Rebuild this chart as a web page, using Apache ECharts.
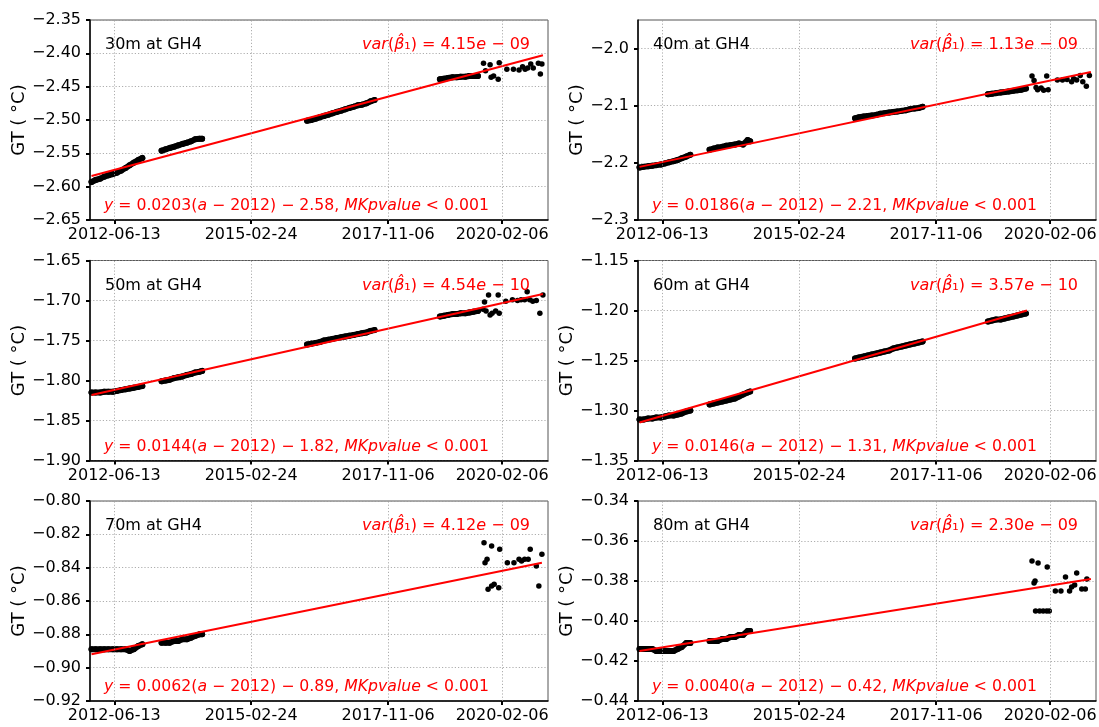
<!DOCTYPE html>
<html><head><meta charset="utf-8">
<script src="https://cdn.jsdelivr.net/npm/echarts/dist/echarts.min.js"></script>
<style>html,body{margin:0;padding:0;background:#fff}#c{width:1099px;height:727px}</style>
</head><body><div id="c"></div>
<script>
// ---------------- DATA ----------------
const xTickDates = ['2012-06-13', '2015-02-24', '2017-11-06', '2020-02-06'];
const panelNames = ['30m at GH4', '40m at GH4', '50m at GH4', '60m at GH4', '70m at GH4', '80m at GH4'];
const slopes = ['0.0203', '0.0186', '0.0144', '0.0146', '0.0062', '0.0040'];
const intercepts = ['2.58', '2.21', '1.82', '1.31', '0.89', '0.42'];
const varMantissa = ['4.15', '1.13', '4.54', '3.57', '4.12', '2.30'];
const varExponent = ['09', '09', '10', '10', '09', '09'];

// y-axis ranges (min, max, interval, decimals)
const yMin = [-2.65, -2.3, -1.90, -1.35, -0.92, -0.44];
const yMax = [-2.35, -1.95, -1.65, -1.15, -0.80, -0.34];
const yStep = [0.05, 0.1, 0.05, 0.05, 0.02, 0.02];
const yDec = [2, 1, 2, 2, 2, 2];

// measurement times (decimal years) of the dense periods
const tA = [2012.00, 2012.08, 2012.17, 2012.25, 2012.33, 2012.42, 2012.50, 2012.58, 2012.67, 2012.75, 2012.83, 2012.92, 2013.00];
const tB = [2013.38, 2013.46, 2013.54, 2013.63, 2013.71, 2013.79, 2013.88, 2013.96, 2014.04, 2014.13, 2014.18];
const tC = [2016.25, 2016.33, 2016.42, 2016.50, 2016.58, 2016.67, 2016.75, 2016.83, 2016.92, 2017.00, 2017.08, 2017.17, 2017.25, 2017.33, 2017.42, 2017.50, 2017.58];
const tD = [2018.87, 2018.95, 2019.03, 2019.12, 2019.20, 2019.28, 2019.37, 2019.45, 2019.53, 2019.62];

// 30 m
const v30A = [-2.593, -2.590, -2.588, -2.585, -2.583, -2.581, -2.579, -2.576, -2.572, -2.568, -2.564, -2.560, -2.557];
const v30B = [-2.546, -2.544, -2.542, -2.540, -2.538, -2.536, -2.534, -2.532, -2.529, -2.528, -2.528];
const v30C = [-2.501, -2.500, -2.498, -2.496, -2.494, -2.492, -2.490, -2.488, -2.486, -2.484, -2.482, -2.480, -2.478, -2.477, -2.475, -2.472, -2.470];
const v30D = [-2.439, -2.438, -2.437, -2.436, -2.436, -2.435, -2.435, -2.434, -2.434, -2.434];
const t30S = [2019.73, 2019.77, 2019.86, 2019.88, 2019.93, 2020.02, 2020.04, 2020.19, 2020.32, 2020.43, 2020.50, 2020.55, 2020.60, 2020.66, 2020.71, 2020.81, 2020.85, 2020.88];
const v30S = [-2.415, -2.426, -2.417, -2.436, -2.434, -2.439, -2.414, -2.424, -2.424, -2.425, -2.420, -2.424, -2.422, -2.416, -2.422, -2.415, -2.431, -2.416];
const trend30T = [2012.00, 2020.90];
const trend30V = [-2.584, -2.403];

// 40 m
const v40A = [-2.208, -2.207, -2.206, -2.205, -2.204, -2.203, -2.201, -2.199, -2.197, -2.195, -2.192, -2.189, -2.186];
const v40B = [-2.177, -2.175, -2.173, -2.172, -2.170, -2.169, -2.168, -2.166, -2.168, -2.160, -2.162];
const v40C = [-2.122, -2.120, -2.119, -2.118, -2.117, -2.116, -2.114, -2.113, -2.112, -2.111, -2.110, -2.109, -2.108, -2.106, -2.105, -2.104, -2.102];
const v40D = [-2.080, -2.079, -2.078, -2.077, -2.076, -2.075, -2.074, -2.073, -2.072, -2.070];
const t40S = [2019.74, 2019.78, 2019.82, 2019.85, 2019.92, 2019.97, 2020.03, 2020.06, 2020.24, 2020.34, 2020.43, 2020.52, 2020.56, 2020.62, 2020.69, 2020.74, 2020.81, 2020.87];
const v40S = [-2.048, -2.056, -2.068, -2.072, -2.069, -2.073, -2.048, -2.072, -2.055, -2.055, -2.054, -2.058, -2.053, -2.055, -2.047, -2.058, -2.066, -2.047];
const trend40T = [2012.00, 2020.90];
const trend40V = [-2.207, -2.041];

// 50 m
const v50A = [-1.815, -1.815, -1.815, -1.814, -1.814, -1.814, -1.813, -1.812, -1.811, -1.810, -1.809, -1.808, -1.807];
const v50B = [-1.801, -1.800, -1.799, -1.797, -1.796, -1.795, -1.793, -1.792, -1.790, -1.789, -1.788];
const v50C = [-1.755, -1.754, -1.753, -1.752, -1.750, -1.749, -1.748, -1.747, -1.746, -1.745, -1.744, -1.743, -1.742, -1.741, -1.740, -1.738, -1.737];
const v50D = [-1.720, -1.719, -1.718, -1.717, -1.717, -1.716, -1.716, -1.715, -1.714, -1.713];
const t50S = [2019.72, 2019.75, 2019.78, 2019.83, 2019.86, 2019.90, 2019.97, 2020.02, 2020.04, 2020.17, 2020.30, 2020.40, 2020.47, 2020.54, 2020.59, 2020.64, 2020.70, 2020.77, 2020.84, 2020.90];
const v50S = [-1.711, -1.702, -1.713, -1.693, -1.718, -1.716, -1.713, -1.693, -1.716, -1.701, -1.699, -1.700, -1.699, -1.699, -1.689, -1.699, -1.701, -1.700, -1.716, -1.693];
const trend50T = [2012.00, 2020.90];
const trend50V = [-1.818, -1.692];

// 60 m
const v60A = [-1.309, -1.309, -1.308, -1.308, -1.307, -1.307, -1.306, -1.305, -1.305, -1.304, -1.303, -1.301, -1.300];
const v60B = [-1.294, -1.293, -1.292, -1.291, -1.290, -1.289, -1.288, -1.286, -1.284, -1.282, -1.281];
const v60C = [-1.248, -1.247, -1.246, -1.245, -1.244, -1.243, -1.242, -1.241, -1.240, -1.238, -1.237, -1.236, -1.235, -1.234, -1.233, -1.232, -1.231];
const v60D = [-1.211, -1.210, -1.209, -1.209, -1.208, -1.207, -1.206, -1.205, -1.204, -1.203];
const t60S = [];
const v60S = [];
const trend60T = [2012.00, 2019.64];
const trend60V = [-1.312, -1.200];

// 70 m
const v70A = [-0.889, -0.889, -0.889, -0.889, -0.889, -0.889, -0.889, -0.889, -0.889, -0.890, -0.889, -0.887, -0.886];
const v70B = [-0.885, -0.885, -0.885, -0.884, -0.884, -0.883, -0.883, -0.882, -0.881, -0.880, -0.880];
const t70S = [2019.74, 2019.76, 2019.80, 2019.82, 2019.89, 2019.89, 2019.94, 2020.03, 2020.05, 2020.20, 2020.33, 2020.43, 2020.48, 2020.54, 2020.61, 2020.65, 2020.77, 2020.82, 2020.88];
const v70S = [-0.825, -0.837, -0.835, -0.853, -0.851, -0.827, -0.850, -0.852, -0.829, -0.837, -0.837, -0.835, -0.836, -0.835, -0.835, -0.829, -0.839, -0.851, -0.832];
const trend70T = [2012.00, 2020.88];
const trend70V = [-0.892, -0.837];

// 80 m
const v80A = [-0.414, -0.414, -0.414, -0.414, -0.415, -0.415, -0.415, -0.415, -0.415, -0.414, -0.413, -0.411, -0.411];
const v80B = [-0.410, -0.410, -0.410, -0.409, -0.409, -0.408, -0.408, -0.407, -0.407, -0.405, -0.405];
const t80S = [2019.74, 2019.78, 2019.80, 2019.81, 2019.86, 2019.89, 2019.96, 2020.03, 2020.04, 2020.08, 2020.20, 2020.31, 2020.40, 2020.48, 2020.52, 2020.58, 2020.62, 2020.72, 2020.79, 2020.82];
const v80S = [-0.370, -0.381, -0.380, -0.395, -0.371, -0.395, -0.395, -0.395, -0.373, -0.395, -0.385, -0.385, -0.378, -0.385, -0.383, -0.382, -0.376, -0.384, -0.384, -0.379];
const trend80T = [2012.00, 2020.90];
const trend80V = [-0.415, -0.379];

// ---------------- BUILD ----------------
function dy(y) { const Y = Math.floor(y); const s = Date.UTC(Y, 0, 1), e = Date.UTC(Y + 1, 0, 1); return s + (y - Y) * (e - s); }
function pairs(ts, vs) { return ts.map((t, i) => [dy(t), vs[i]]); }
const panelData = [
  { dense: [[tA, v30A], [tB, v30B], [tC, v30C], [tD, v30D]], sparse: [t30S, v30S], trend: [trend30T, trend30V] },
  { dense: [[tA, v40A], [tB, v40B], [tC, v40C], [tD, v40D]], sparse: [t40S, v40S], trend: [trend40T, trend40V] },
  { dense: [[tA, v50A], [tB, v50B], [tC, v50C], [tD, v50D]], sparse: [t50S, v50S], trend: [trend50T, trend50V] },
  { dense: [[tA, v60A], [tB, v60B], [tC, v60C], [tD, v60D]], sparse: [t60S, v60S], trend: [trend60T, trend60V] },
  { dense: [[tA, v70A], [tB, v70B]], sparse: [t70S, v70S], trend: [trend70T, trend70V] },
  { dense: [[tA, v80A], [tB, v80B]], sparse: [t80S, v80S], trend: [trend80T, trend80V] }
];

const FONT = '"DejaVu Sans", "Noto Sans", sans-serif';
const colLeft = [90, 638];
const rowTop = [20, 260.5, 501];
const gridW = 458, gridH = 200;
const xMin = dy(2011.97), xMax = dy(2021.0);
const xTickVals = xTickDates.map(d => Date.parse(d));
const nameGaps = [61, 51, 61, 61, 61, 61];
const GRID_STYLE = { color: '#999999', width: 0.8, type: [1.2, 2] };

function pad(n) { return (n < 10 ? '0' : '') + n; }
function fmtDate(v) { const d = new Date(v); return d.getUTCFullYear() + '-' + pad(d.getUTCMonth() + 1) + '-' + pad(d.getUTCDate()); }

const grids = [], xAxes = [], yAxes = [], series = [], graphics = [];
const rich = {
  n: { fontFamily: FONT, fontSize: 16, color: '#ff0000' },
  i: { fontFamily: FONT, fontSize: 16, color: '#ff0000', fontStyle: 'italic' }
};
const richEq = {
  n: { fontFamily: FONT, fontSize: 15.7, color: '#ff0000' },
  i: { fontFamily: FONT, fontSize: 15.7, color: '#ff0000', fontStyle: 'italic' }
};

panelData.forEach((p, k) => {
  const col = k % 2, row = Math.floor(k / 2);
  const L = colLeft[col], T = rowTop[row];
  grids.push({ left: L, top: T, width: gridW, height: gridH, show: true, borderColor: '#555', borderWidth: 1, backgroundColor: 'transparent', containLabel: false, outerBoundsMode: 'none' });
  xAxes.push({
    type: 'value', gridIndex: k, min: xMin, max: xMax, scale: true,
    axisLine: { show: true, onZero: false, lineStyle: { color: '#000', width: 1.5 } },
    axisTick: { show: true, customValues: xTickVals, length: 4, lineStyle: { color: '#000', width: 2 } },
    axisLabel: { customValues: xTickVals, formatter: fmtDate, color: '#000', fontSize: 16, fontFamily: FONT, margin: 7, hideOverlap: false, showMinLabel: true, showMaxLabel: true },
    splitLine: { show: false }
  });
  const dec = yDec[k];
  const yLabelVals = [];
  for (let j = 0; yMin[k] + j * yStep[k] <= yMax[k] + 1e-9; j++) yLabelVals.push(+(yMin[k] + j * yStep[k]).toFixed(4));
  yAxes.push({
    type: 'value', gridIndex: k, min: yMin[k], max: yMax[k], interval: yStep[k],
    name: 'GT ( °C)', nameLocation: 'middle', nameRotate: 90, nameGap: nameGaps[k],
    nameTextStyle: { color: '#000', fontSize: 18, fontFamily: FONT },
    axisLine: { show: true, onZero: false, lineStyle: { color: '#000', width: 1.5 } },
    axisTick: { show: true, customValues: yLabelVals, length: 4, lineStyle: { color: '#000', width: 2 } },
    axisLabel: { customValues: yLabelVals, color: '#000', fontSize: 16, fontFamily: FONT, margin: 9,
      formatter: v => (v < 0 ? '\u2212' : '') + Math.abs(v).toFixed(dec) },
    splitLine: { show: true, lineStyle: GRID_STYLE }
  });
  // vertical grid lines at the custom date ticks (invisible carrier series)
  series.push({ type: 'line', xAxisIndex: k, yAxisIndex: k, data: pairs(p.trend[0], p.trend[1]), symbol: 'none',
    lineStyle: { opacity: 0 }, silent: true, animation: false, z: 1,
    markLine: { silent: true, symbol: 'none', label: { show: false }, animation: false,
      lineStyle: GRID_STYLE, emphasis: { disabled: true },
      data: xTickVals.map(v => ({ xAxis: v })) } });
  // dense measurement periods
  p.dense.forEach(s => {
    series.push({ type: 'line', xAxisIndex: k, yAxisIndex: k, data: pairs(s[0], s[1]),
      symbol: 'circle', symbolSize: 6, showSymbol: true,
      itemStyle: { color: '#000', opacity: 1 }, lineStyle: { color: '#000', width: 6, cap: 'round', join: 'round' },
      silent: true, animation: false, z: 2 });
  });
  // sparse points
  series.push({ type: 'scatter', xAxisIndex: k, yAxisIndex: k, data: pairs(p.sparse[0], p.sparse[1]), symbol: 'circle', symbolSize: 5.5,
    itemStyle: { color: '#000', opacity: 1 }, silent: true, animation: false, z: 2 });
  // regression line
  series.push({ type: 'line', xAxisIndex: k, yAxisIndex: k, data: pairs(p.trend[0], p.trend[1]), symbol: 'none',
    lineStyle: { color: '#ff0000', width: 2 }, silent: true, animation: false, z: 3 });

  graphics.push({ type: 'text', x: L + 15, y: T + 25, z: 10,
    style: { text: panelNames[k], fill: '#000', font: '16px ' + FONT, verticalAlign: 'middle', align: 'left' } });
  graphics.push({ type: 'text', x: L + gridW - 18, y: T + 25, z: 10,
    style: { text: '{i|var}{n|(}{i|β\u0302}{n|\u2081) = ' + varMantissa[k] + '}{i|e}{n| \u2212 ' + varExponent[k] + '}',
      rich: rich, fill: '#ff0000', font: '16px ' + FONT, verticalAlign: 'middle', align: 'right' } });
  graphics.push({ type: 'text', x: L + 14, y: T + 186, z: 10,
    style: { text: '{i|y}{n| = ' + slopes[k] + '(}{i|a}{n| \u2212 2012) \u2212 ' + intercepts[k] + ', }{i|MKpvalue}{n| < 0.001}',
      rich: richEq, fill: '#ff0000', font: '15.7px ' + FONT, verticalAlign: 'middle', align: 'left' } });
});

const chart = echarts.init(document.getElementById('c'), null, { renderer: 'canvas' });
chart.setOption({
  animation: false, backgroundColor: '#fff',
  grid: grids, xAxis: xAxes, yAxis: yAxes, series: series, graphic: graphics
});
</script></body></html>
